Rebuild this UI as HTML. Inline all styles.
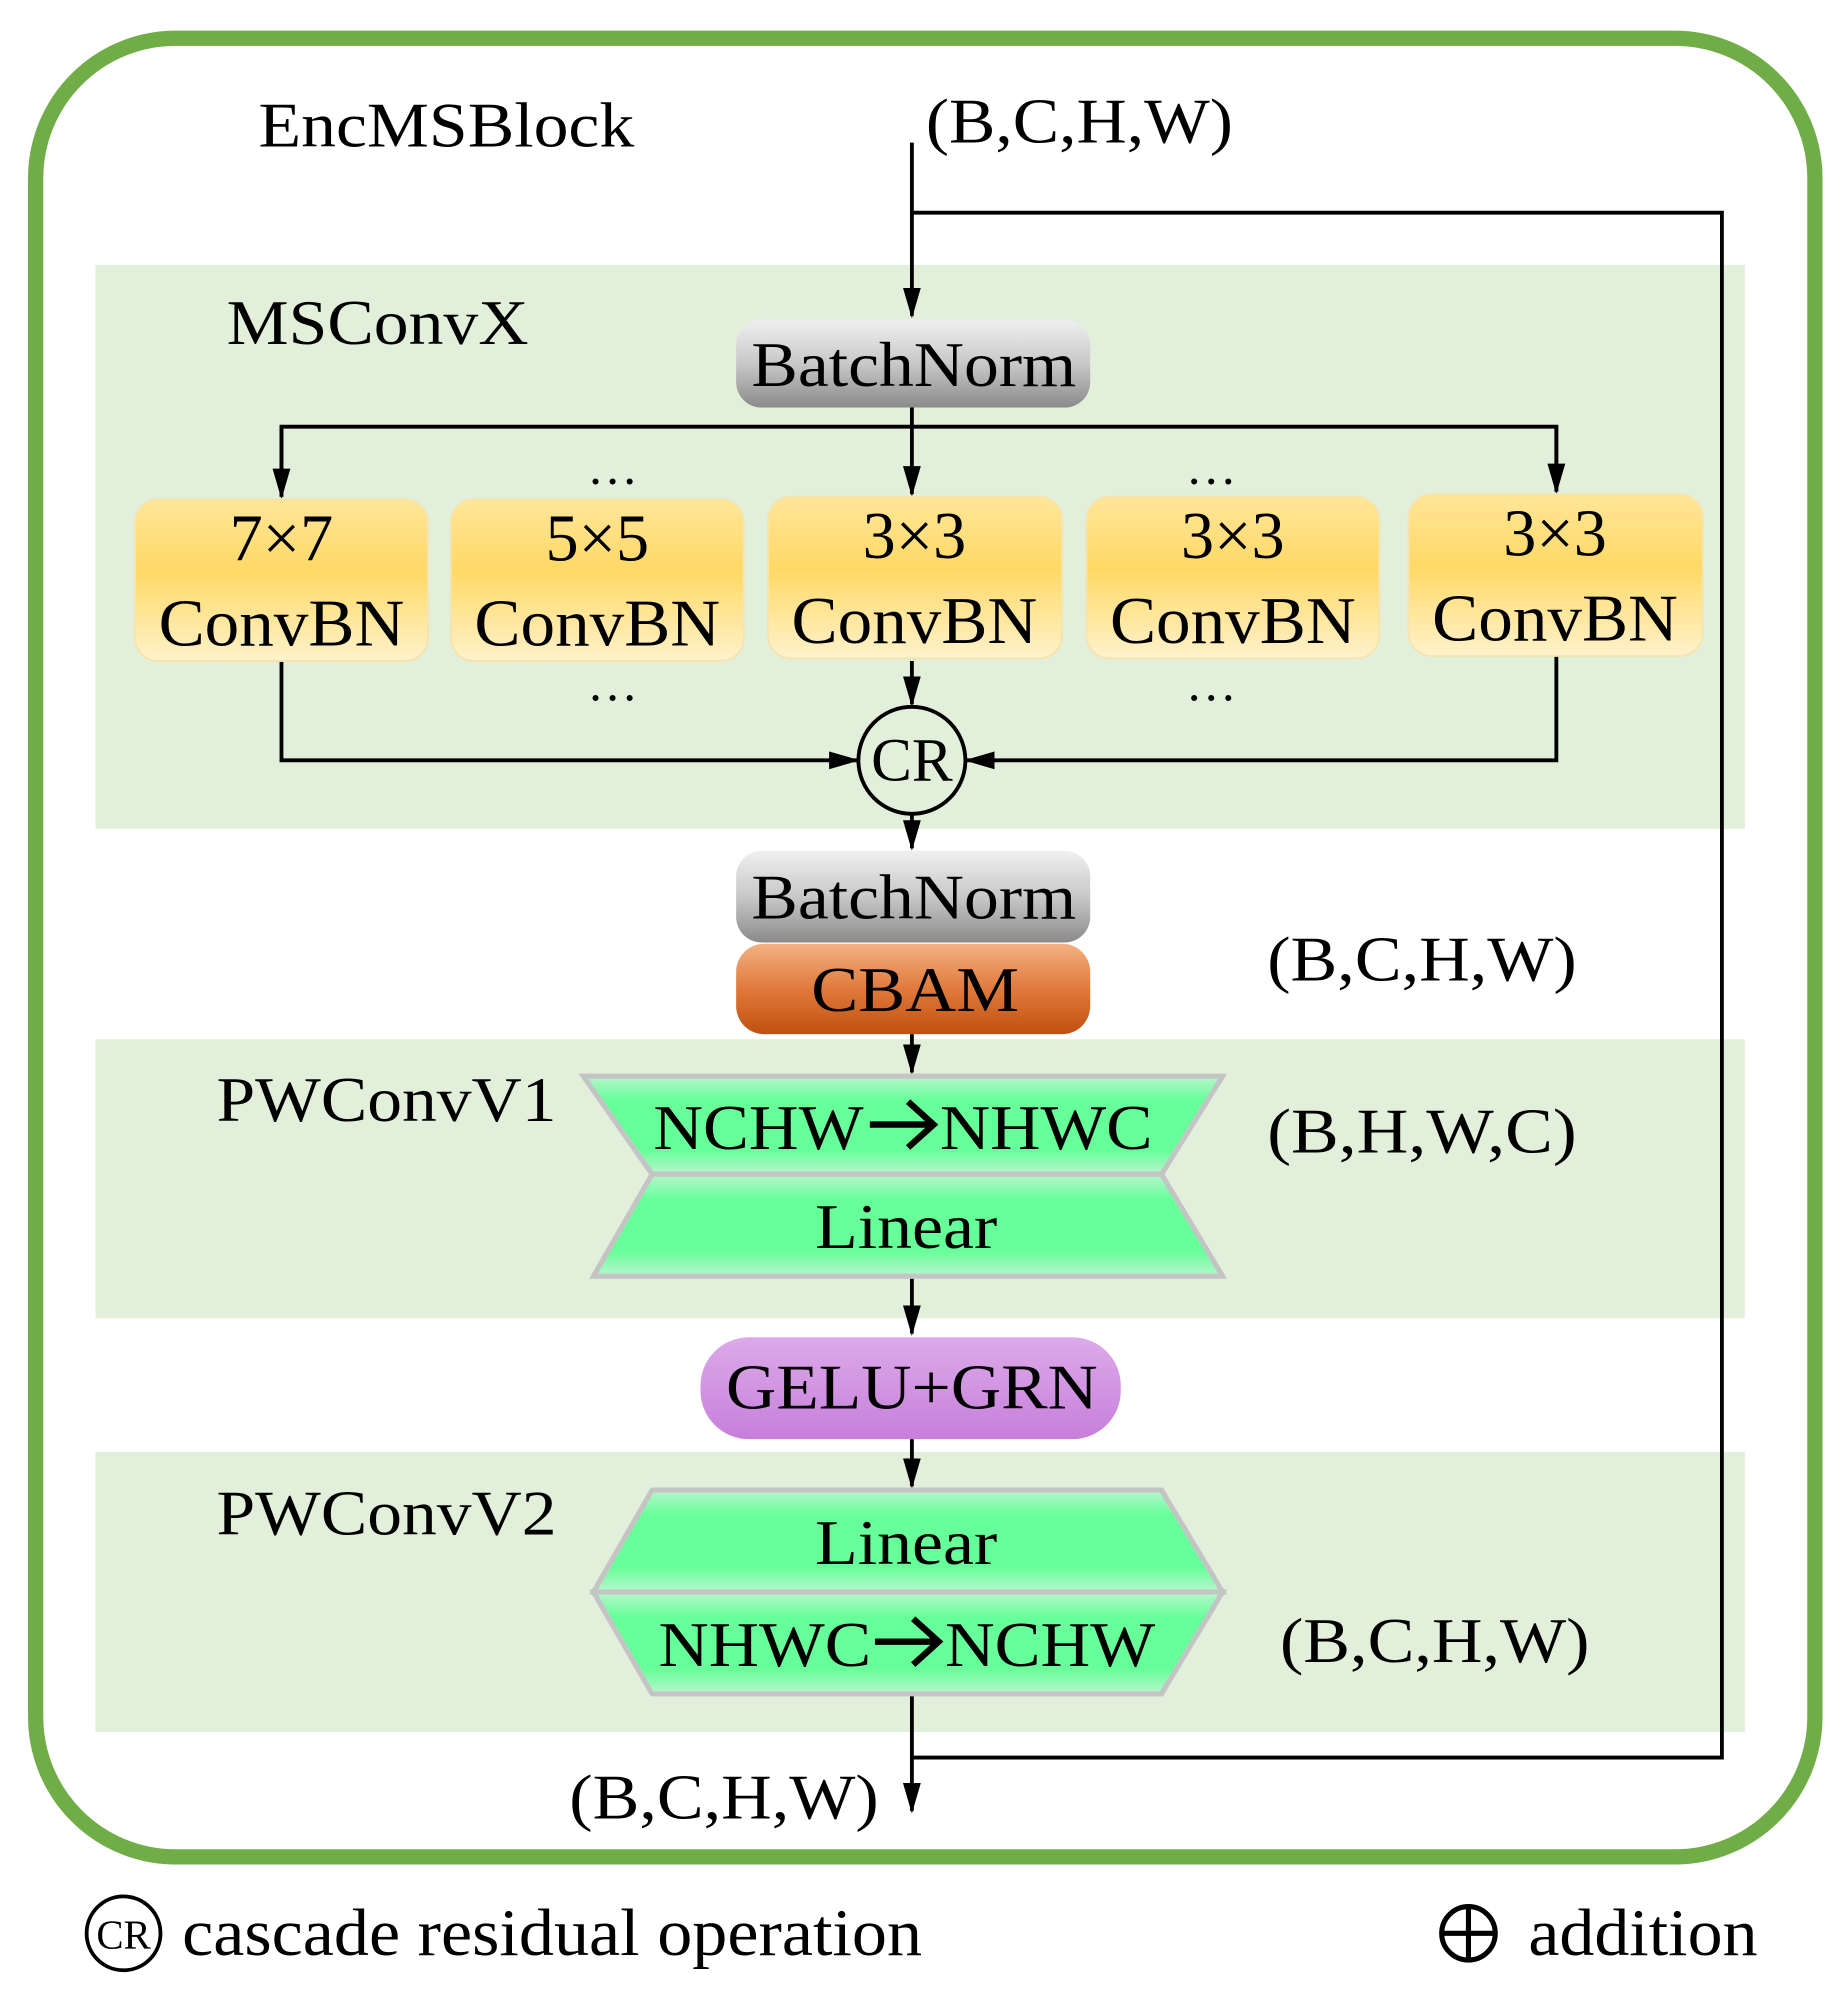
<!DOCTYPE html>
<html><head><meta charset="utf-8"><style>
html,body{margin:0;padding:0;background:#fff;}
svg{display:block;}
text{font-family:"Liberation Serif",serif;fill:#000;}
</style></head><body>
<svg width="1848" height="1997" viewBox="0 0 1451 1568" preserveAspectRatio="none" xmlns="http://www.w3.org/2000/svg">
<defs>
<linearGradient id="gray" x1="0" y1="0" x2="0" y2="1"><stop offset="0" stop-color="#f0f0f0"/><stop offset="0.5" stop-color="#c8c8c8"/><stop offset="1" stop-color="#8a8a8a"/></linearGradient>
<linearGradient id="yel" x1="0" y1="0" x2="0" y2="1"><stop offset="0" stop-color="#ffe699"/><stop offset="0.45" stop-color="#ffd966"/><stop offset="1" stop-color="#fff2cc"/></linearGradient>
<linearGradient id="org" x1="0" y1="0" x2="0" y2="1"><stop offset="0" stop-color="#f4b183"/><stop offset="0.5" stop-color="#e07a3c"/><stop offset="1" stop-color="#c0500e"/></linearGradient>
<linearGradient id="grn" x1="0" y1="0" x2="0" y2="1"><stop offset="0" stop-color="#b8f5cc"/><stop offset="0.25" stop-color="#66ff99"/><stop offset="0.75" stop-color="#66ff99"/><stop offset="1" stop-color="#b8f5cc"/></linearGradient>
<linearGradient id="pur" x1="0" y1="0" x2="0" y2="1"><stop offset="0" stop-color="#dcaaea"/><stop offset="1" stop-color="#c77fda"/></linearGradient>
<marker id="ar" markerWidth="24" markerHeight="14" refX="22" refY="7" orient="auto" markerUnits="userSpaceOnUse" viewBox="0 0 24 14"><path d="M0,0 L24,7 L0,14 z" fill="#000"/></marker>
</defs>
<rect x="28" y="30" width="1397" height="1428" rx="110" fill="#fff" stroke="#70ad47" stroke-width="12"/>
<rect x="75" y="208" width="1295" height="443" fill="#e2efda"/>
<rect x="75" y="816" width="1295" height="219" fill="#e2efda"/>
<rect x="75" y="1140" width="1295" height="220" fill="#e2efda"/>
<g lengthAdjust="spacingAndGlyphs">
<text x="203" y="115" font-size="50" textLength="295" lengthAdjust="spacingAndGlyphs">EncMSBlock</text>
<text x="727" y="112" font-size="50" textLength="241" lengthAdjust="spacingAndGlyphs">(B,C,H,W)</text>
<text x="178" y="270" font-size="50" textLength="237" lengthAdjust="spacingAndGlyphs">MSConvX</text>
<text x="170" y="880" font-size="50" textLength="267" lengthAdjust="spacingAndGlyphs">PWConvV1</text>
<text x="170" y="1205" font-size="50" textLength="267" lengthAdjust="spacingAndGlyphs">PWConvV2</text>
<text x="995" y="770" font-size="50" textLength="243" lengthAdjust="spacingAndGlyphs">(B,C,H,W)</text>
<text x="995" y="905" font-size="50" textLength="243" lengthAdjust="spacingAndGlyphs">(B,H,W,C)</text>
<text x="1005" y="1305" font-size="50" textLength="243" lengthAdjust="spacingAndGlyphs">(B,C,H,W)</text>
<text x="447" y="1428" font-size="50" textLength="243" lengthAdjust="spacingAndGlyphs">(B,C,H,W)</text>
</g>
<g stroke="#000" stroke-width="3" fill="none">
<line x1="716" y1="112" x2="716" y2="248" marker-end="url(#ar)"/>
<polyline points="716,167 1352,167 1352,1380 716,1380"/>
<polyline points="221,390 221,335 1222,335 1222,386"/>
<line x1="221" y1="335" x2="221" y2="390" marker-end="url(#ar)"/>
<line x1="1222" y1="335" x2="1222" y2="386" marker-end="url(#ar)"/>
<line x1="716" y1="320" x2="716" y2="388" marker-end="url(#ar)"/>
<line x1="716" y1="519" x2="716" y2="553" marker-end="url(#ar)"/>
<polyline points="221,519 221,597 673,597" marker-end="url(#ar)"/>
<polyline points="1222,515 1222,597 759,597" marker-end="url(#ar)"/>
<line x1="716" y1="639" x2="716" y2="666" marker-end="url(#ar)"/>
<line x1="716" y1="812" x2="716" y2="842" marker-end="url(#ar)"/>
<line x1="716" y1="1004" x2="716" y2="1047" marker-end="url(#ar)"/>
<line x1="716" y1="1130" x2="716" y2="1167" marker-end="url(#ar)"/>
<line x1="716" y1="1330" x2="716" y2="1422" marker-end="url(#ar)"/>
</g>
<rect x="578" y="251" width="278" height="69" rx="20" fill="url(#gray)"/>
<text x="590" y="303" font-size="50" textLength="255" lengthAdjust="spacingAndGlyphs">BatchNorm</text>
<g font-size="52" text-anchor="middle">
<rect x="106" y="392" width="230" height="127" rx="18" fill="url(#yel)" stroke="#f5e4b0" stroke-width="1.5"/>
<text x="221" y="440">7×7</text><text x="221" y="507" textLength="193" lengthAdjust="spacingAndGlyphs">ConvBN</text>
<rect x="354" y="392" width="230" height="127" rx="18" fill="url(#yel)" stroke="#f5e4b0" stroke-width="1.5"/>
<text x="469" y="440">5×5</text><text x="469" y="507" textLength="193" lengthAdjust="spacingAndGlyphs">ConvBN</text>
<rect x="603" y="390" width="231" height="127" rx="18" fill="url(#yel)" stroke="#f5e4b0" stroke-width="1.5"/>
<text x="718" y="438">3×3</text><text x="718" y="505" textLength="193" lengthAdjust="spacingAndGlyphs">ConvBN</text>
<rect x="853" y="390" width="230" height="127" rx="18" fill="url(#yel)" stroke="#f5e4b0" stroke-width="1.5"/>
<text x="968" y="438">3×3</text><text x="968" y="505" textLength="193" lengthAdjust="spacingAndGlyphs">ConvBN</text>
<rect x="1106" y="388" width="231" height="127" rx="18" fill="url(#yel)" stroke="#f5e4b0" stroke-width="1.5"/>
<text x="1221" y="436">3×3</text><text x="1221" y="503" textLength="193" lengthAdjust="spacingAndGlyphs">ConvBN</text>
</g>
<g font-size="40" text-anchor="middle">
<text x="481" y="380">…</text><text x="951" y="380">…</text>
<text x="481" y="550">…</text><text x="951" y="550">…</text>
</g>
<circle cx="716" cy="597" r="42" fill="none" stroke="#000" stroke-width="3"/>
<text x="716" y="613" font-size="48" text-anchor="middle">CR</text>
<rect x="578" y="668" width="278" height="72" rx="20" fill="url(#gray)"/>
<text x="590" y="721" font-size="50" textLength="255" lengthAdjust="spacingAndGlyphs">BatchNorm</text>
<rect x="578" y="741" width="278" height="71" rx="22" fill="url(#org)"/>
<text x="637" y="794" font-size="50" textLength="163" lengthAdjust="spacingAndGlyphs">CBAM</text>
<g stroke="#c4c4c4" stroke-width="4" fill="url(#grn)">
<polygon points="458,845 960,845 912,922 512,922"/>
<polygon points="512,922 912,922 960,1002 466,1002"/>
<polygon points="512,1170 912,1170 960,1250 466,1250"/>
<polygon points="466,1250 960,1250 912,1330 512,1330"/>
</g>
<g font-size="50">
<text x="513" y="902" textLength="165" lengthAdjust="spacingAndGlyphs">NCHW</text>
<text x="738" y="902" textLength="167" lengthAdjust="spacingAndGlyphs">NHWC</text>
<text x="640" y="980" textLength="143" lengthAdjust="spacingAndGlyphs">Linear</text>
<text x="640" y="1228" textLength="143" lengthAdjust="spacingAndGlyphs">Linear</text>
<text x="517" y="1308" textLength="167" lengthAdjust="spacingAndGlyphs">NHWC</text>
<text x="742" y="1308" textLength="165" lengthAdjust="spacingAndGlyphs">NCHW</text>
</g>
<g stroke="#000" stroke-width="5" fill="none">
<path d="M683,883 L733,883 M713,865 L733,883 L713,901"/>
<path d="M687,1289 L737,1289 M717,1271 L737,1289 L717,1307"/>
</g>
<rect x="550" y="1050" width="330" height="80" rx="38" fill="url(#pur)"/>
<text x="570" y="1106" font-size="50" textLength="292" lengthAdjust="spacingAndGlyphs">GELU+GRN</text>
<circle cx="97" cy="1518" r="29" fill="none" stroke="#000" stroke-width="3"/>
<text x="97" y="1530" font-size="32" text-anchor="middle">CR</text>
<text x="143" y="1535" font-size="52" textLength="581" lengthAdjust="spacingAndGlyphs">cascade residual operation</text>
<circle cx="1153" cy="1518" r="21" fill="none" stroke="#000" stroke-width="4"/>
<line x1="1132" y1="1518" x2="1174" y2="1518" stroke="#000" stroke-width="4"/>
<line x1="1153" y1="1497" x2="1153" y2="1539" stroke="#000" stroke-width="4"/>
<text x="1200" y="1535" font-size="52" textLength="180" lengthAdjust="spacingAndGlyphs">addition</text>
</svg>
</body></html>
